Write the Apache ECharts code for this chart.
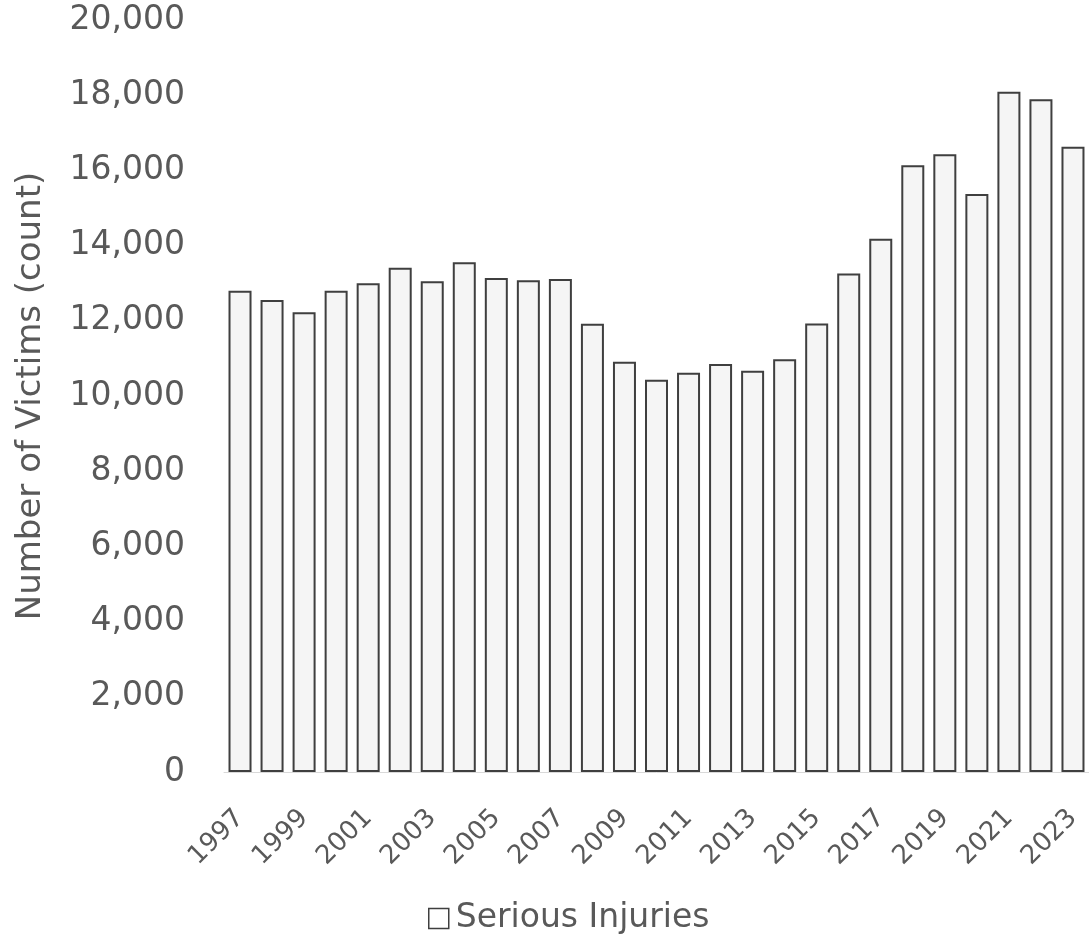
<!DOCTYPE html>
<html>
<head>
<meta charset="utf-8">
<script src="https://cdn.jsdelivr.net/npm/echarts@6/dist/echarts.min.js"></script>
<style>
  html, body { margin: 0; padding: 0; background: #ffffff; }
  #chart { width: 1089px; height: 936px; }
</style>
</head>
<body>
<div id="chart"></div>
<script>
const years = ['1997','1998','1999','2000','2001','2002','2003','2004','2005','2006','2007','2008','2009','2010','2011','2012','2013','2014','2015','2016','2017','2018','2019','2020','2021','2022','2023'];
const seriousInjuries = [12800,12550,12230,12800,13000,13410,13050,13560,13140,13080,13110,11920,10910,10430,10620,10850,10670,10980,11930,13260,14180,16140,16430,15370,18090,17890,16630];
const seriesName = 'Serious Injuries';
const yAxisTitle = 'Number of Victims (count)';

const textColor = '#595959';
const fontFamily = 'DejaVu Sans';

const chart = echarts.init(document.getElementById('chart'), null, { renderer: 'canvas' });
chart.setOption({
  animation: false,
  backgroundColor: '#ffffff',
  grid: { left: 224, right: -3, top: 20, bottom: 164, containLabel: false },
  legend: {
    left: 423,
    top: 897,
    itemWidth: 20,
    itemHeight: 20,
    itemGap: 8,
    icon: 'rect',
    itemStyle: { color: '#ffffff', borderColor: '#3f3f3f', borderWidth: 1.5 },
    textStyle: { color: textColor, fontFamily: fontFamily, fontSize: 33, padding: [0, 0, 0, 2] },
    data: [seriesName]
  },
  xAxis: {
    type: 'category',
    data: years,
    axisLine: { show: true, lineStyle: { color: '#d9d9d9', width: 1 } },
    axisTick: { show: false },
    axisLabel: {
      interval: 1,
      rotate: 45,
      margin: 42,
      color: textColor,
      fontFamily: fontFamily,
      fontSize: 26
    }
  },
  yAxis: {
    type: 'value',
    min: 0,
    max: 20000,
    interval: 2000,
    name: yAxisTitle,
    nameLocation: 'middle',
    nameGap: 176,
    nameRotate: 90,
    nameTextStyle: { color: textColor, fontFamily: fontFamily, fontSize: 34 },
    axisLine: { show: false },
    axisTick: { show: false },
    splitLine: { show: false },
    axisLabel: {
      margin: 39,
      color: textColor,
      fontFamily: fontFamily,
      fontSize: 33,
      formatter: function (v) { return v.toLocaleString('en-US'); }
    }
  },
  series: [{
    name: seriesName,
    type: 'bar',
    data: seriousInjuries,
    barWidth: 23,
    itemStyle: { color: '#f5f5f5', borderColor: '#3f3f3f', borderWidth: 2 }
  }]
});
</script>
</body>
</html>
